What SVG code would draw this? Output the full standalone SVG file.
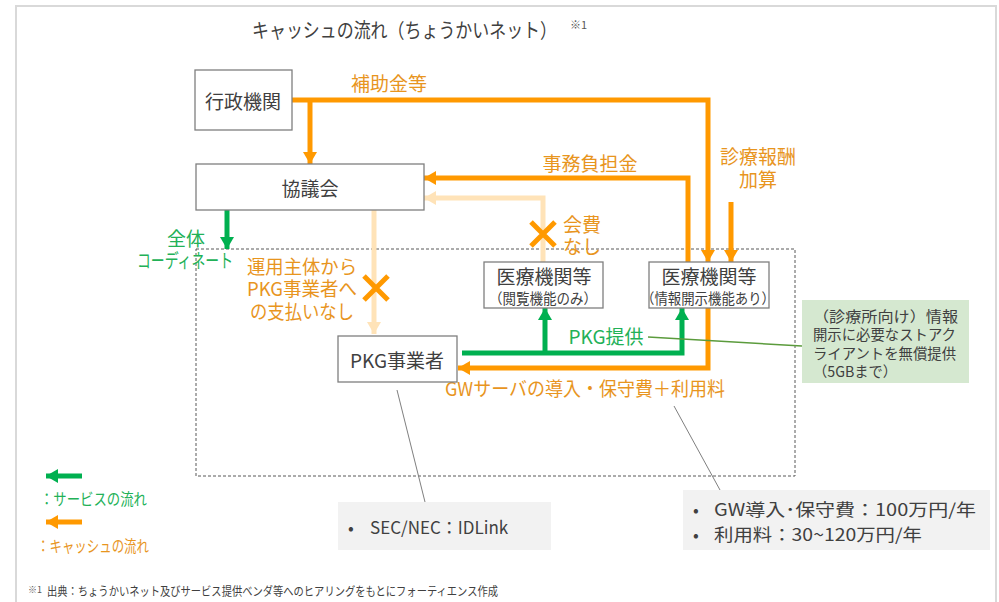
<svg xmlns="http://www.w3.org/2000/svg" width="999" height="602" viewBox="0 0 999 602">
<defs>
<style>
text{font-family:"Noto Sans CJK JP","Noto Sans",sans-serif;dominant-baseline:central}
.box{fill:#fff;stroke:#7f7f7f;stroke-width:1.3}
.t{fill:#404040;font-size:19px;text-anchor:middle}
.ts{fill:#404040;font-size:14.5px;text-anchor:middle}
.o{fill:#E8951E;font-size:19px;text-anchor:middle}
.g{fill:#22B157;font-size:19px;text-anchor:middle}
.lo{fill:none;stroke:#FF9900;stroke-width:5}
.ll{fill:none;stroke:#FFE3B8;stroke-width:5}
.lg{fill:none;stroke:#00B050;stroke-width:5}
.x{stroke:#FF9900;stroke-width:5;stroke-linecap:butt}
.thin{fill:none;stroke:#7f7f7f;stroke-width:1}
.note{fill:#F2F2F2}
.nt{fill:#404040;font-size:17px}
</style>
<marker id="aO" viewBox="0 0 12 14" markerWidth="12" markerHeight="14" refX="12" refY="7" orient="auto" markerUnits="userSpaceOnUse"><path d="M0,0L12,7L0,14z" fill="#FF9900"/></marker>
<marker id="aL" viewBox="0 0 12 14" markerWidth="12" markerHeight="14" refX="12" refY="7" orient="auto" markerUnits="userSpaceOnUse"><path d="M0,0L12,7L0,14z" fill="#FFE3B8"/></marker>
<marker id="aG" viewBox="0 0 12 14" markerWidth="12" markerHeight="14" refX="12" refY="7" orient="auto" markerUnits="userSpaceOnUse"><path d="M0,0L12,7L0,14z" fill="#00B050"/></marker>
</defs>
<rect width="999" height="602" fill="#fff"/>
<rect x="16" y="6" width="980" height="620" fill="none" stroke="#D9D9D9" stroke-width="2"/>

<g id="title">
<text x="252" y="29" font-size="20" fill="#404040" textLength="305" lengthAdjust="spacingAndGlyphs">キャッシュの流れ（ちょうかいネット）</text>
<text x="570" y="24" font-size="11" fill="#595959">※1</text>
</g>

<rect x="196" y="249" width="599" height="227" fill="none" stroke="#595959" stroke-width="1" stroke-dasharray="3,2"/>

<g id="connectors">
<path class="lo" d="M292,100H708V262" marker-end="url(#aO)"/>
<path class="lo" d="M310,100V164" marker-end="url(#aO)"/>
<path class="lo" d="M688,262V178H424" marker-end="url(#aO)"/>
<path class="lo" d="M731,202V262" marker-end="url(#aO)"/>
<path class="ll" d="M543,262V198H424" marker-end="url(#aL)"/>
<path class="ll" d="M374,210V334" marker-end="url(#aL)"/>
<path class="lg" d="M227,210V249" marker-end="url(#aG)"/>
<path class="lg" d="M462,353H682V308" marker-end="url(#aG)"/>
<path class="lg" d="M545,353V308" marker-end="url(#aG)"/>
<path class="lo" d="M708,308V368H458" marker-end="url(#aO)"/>
<path d="M648,337L802,346" fill="none" stroke="#5B9B3C" stroke-width="1.5"/>
<path class="thin" d="M397,390L425,502"/>
<path class="thin" d="M674,406L720,490"/>
<path class="x" d="M531,222L555,246M555,222L531,246"/>
<path class="x" d="M364,276L388,300M388,276L364,300"/>
</g>

<g id="labels">
<text class="o" x="389" y="82">補助金等</text>
<text class="o" x="590" y="162">事務負担金</text>
<text class="o" x="758" y="155">診療報酬</text>
<text class="o" x="758" y="178">加算</text>
<text class="o" x="582" y="223">会費</text>
<text class="o" x="582" y="245">なし</text>
<text class="o" x="302" y="265" font-size="18" textLength="110" lengthAdjust="spacingAndGlyphs">運用主体から</text>
<text class="o" x="302" y="287" font-size="18" textLength="110" lengthAdjust="spacingAndGlyphs">PKG事業者へ</text>
<text class="o" x="302" y="310" font-size="18" textLength="104" lengthAdjust="spacingAndGlyphs">の支払いなし</text>
<text class="g" x="186" y="237">全体</text>
<text class="g" x="185" y="259" font-size="18" textLength="96" lengthAdjust="spacingAndGlyphs">コーディネート</text>
<text class="g" x="606" y="335">PKG提供</text>
<text class="o" x="585" y="387" textLength="280" lengthAdjust="spacingAndGlyphs">GWサーバの導入・保守費＋利用料</text>
</g>

<g id="gyosei">
<rect class="box" x="195" y="70" width="97" height="60"/>
<text class="t" x="243" y="100">行政機関</text>
</g>
<g id="kyogikai">
<rect class="box" x="196" y="164" width="228" height="46"/>
<text class="t" x="310" y="187">協議会</text>
</g>
<g id="iryo-view">
<rect class="box" x="484" y="262" width="119" height="46"/>
<text class="t" x="544" y="275">医療機関等</text>
<text class="ts" x="543" y="297" textLength="108" lengthAdjust="spacingAndGlyphs">（閲覧機能のみ）</text>
</g>
<g id="iryo-open">
<rect class="box" x="649" y="262" width="120" height="46"/>
<text class="t" x="709" y="275">医療機関等</text>
<text class="ts" x="708" y="297" textLength="134" lengthAdjust="spacingAndGlyphs">（情報開示機能あり）</text>
</g>
<g id="pkg">
<rect class="box" x="338" y="336" width="119" height="46"/>
<text class="t" x="397" y="359">PKG事業者</text>
</g>

<g id="green-note">
<rect x="802" y="300" width="167" height="83" fill="#D5E8D0"/>
<text x="813" y="315" font-size="14.5" fill="#404040" textLength="145" lengthAdjust="spacingAndGlyphs">（診療所向け）情報</text>
<text x="813" y="333" font-size="14.5" fill="#404040" textLength="143" lengthAdjust="spacingAndGlyphs">開示に必要なストアク</text>
<text x="813" y="352" font-size="14.5" fill="#404040" textLength="143" lengthAdjust="spacingAndGlyphs">ライアントを無償提供</text>
<text x="813" y="370" font-size="14.5" fill="#404040" textLength="84" lengthAdjust="spacingAndGlyphs">（5GBまで）</text>
</g>

<g id="note-sec">
<rect class="note" x="338" y="502" width="213" height="48"/>
<text class="nt" x="348" y="526">•</text>
<text class="nt" x="370" y="526">SEC/NEC：IDLink</text>
</g>
<g id="note-gw">
<rect class="note" x="683" y="490" width="307" height="60"/>
<text class="nt" x="693" y="508">•</text>
<text class="nt" x="714" y="508" textLength="262" lengthAdjust="spacingAndGlyphs">GW導入･保守費：100万円/年</text>
<text class="nt" x="693" y="533">•</text>
<text class="nt" x="714" y="533" textLength="208" lengthAdjust="spacingAndGlyphs">利用料：30~120万円/年</text>
</g>

<g id="legend">
<path class="lg" d="M82,476H46" marker-end="url(#aG)"/>
<text x="40" y="498" font-size="16" fill="#22B157" textLength="107" lengthAdjust="spacingAndGlyphs">：サービスの流れ</text>
<path class="lo" d="M82,522H46" marker-end="url(#aO)"/>
<text x="37" y="545" font-size="16" fill="#E8951E" textLength="112" lengthAdjust="spacingAndGlyphs">：キャッシュの流れ</text>
</g>

<g id="footer">
<text x="28" y="589" font-size="9" fill="#595959">※1</text>
<text x="47" y="590" font-size="12" fill="#404040" textLength="451" lengthAdjust="spacingAndGlyphs">出典：ちょうかいネット及びサービス提供ベンダ等へのヒアリングをもとにフォーティエンス作成</text>
</g>
</svg>
